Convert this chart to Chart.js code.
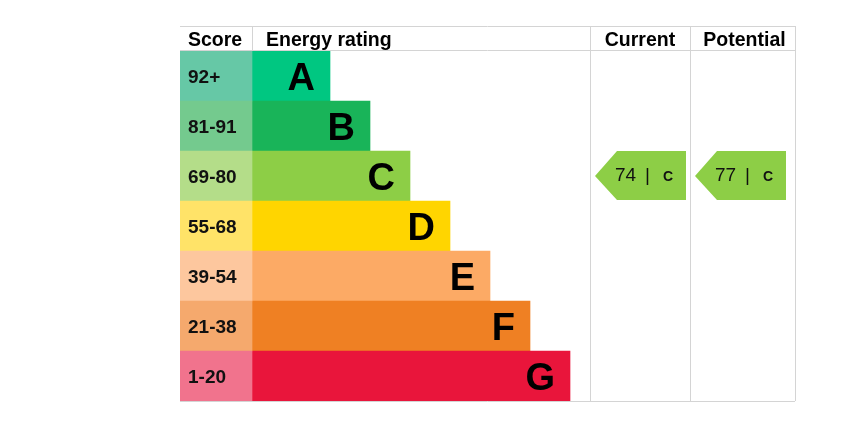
<!DOCTYPE html>
<html>
<head>
<meta charset="utf-8">
<script src="https://cdn.jsdelivr.net/npm/chart.js@4/dist/chart.umd.min.js"></script>
<style>
  html, body { margin: 0; padding: 0; background: #ffffff; }
  #wrap { width: 861px; height: 424px; }
</style>
</head>
<body>
<div id="wrap"><canvas id="c" width="861" height="424"></canvas></div>
<script>
// ---- data ----
const ratings      = ['A', 'B', 'C', 'D', 'E', 'F', 'G'];
const scoreRanges  = ['92+', '81-91', '69-80', '55-68', '39-54', '21-38', '1-20'];
const scoreMins    = [92, 81, 69, 55, 39, 21, 1];
const barLengths   = [78, 118, 158, 198, 238, 278, 318];
const currentScore = 74;
const potentialScore = 77;
const headers      = ['Score', 'Energy rating', 'Current', 'Potential'];

// ---- styles ----
const barColors   = ['#00c781', '#19b459', '#8dce46', '#ffd500', '#fcaa65', '#ef8023', '#e9153b'];
const scoreColors = ['#66c8a6', '#74ca8e', '#b4dd89', '#ffe368', '#fdc79e', '#f5a96d', '#f1738d'];
const gridColor = '#d4d4d4';
const FONT = '"Liberation Sans", Arial, Helvetica, sans-serif';

// table column boundaries in x-scale units
const COLS = { score: [0, 72], rating: [72, 410], current: [410, 510], potential: [510, 615] };
const HEADER_H = 25;

function ratingFor(score) {
  for (let i = 0; i < scoreMins.length; i++) if (score >= scoreMins[i]) return i;
  return scoreMins.length - 1;
}

const tablePlugin = {
  id: 'epcTable',
  beforeDatasetsDraw(chart) {
    const { ctx, chartArea: ca, scales: { x } } = chart;
    const top = ca.top - HEADER_H;
    ctx.save();
    ctx.strokeStyle = gridColor;
    ctx.lineWidth = 1;
    const hl = (y, x1, x2) => { ctx.beginPath(); ctx.moveTo(x1, Math.round(y) + 0.5); ctx.lineTo(x2, Math.round(y) + 0.5); ctx.stroke(); };
    const vl = (xx, y1, y2) => { ctx.beginPath(); ctx.moveTo(Math.round(xx) - 0.5, y1); ctx.lineTo(Math.round(xx) - 0.5, y2); ctx.stroke(); };
    const xl = x.getPixelForValue(COLS.score[0]);
    const xr = x.getPixelForValue(COLS.potential[1]);
    hl(top, xl, xr);
    hl(ca.top - 1, xl, xr);
    hl(ca.bottom, xl, xr);
    vl(x.getPixelForValue(COLS.rating[0]) + 1, top, ca.top);
    vl(x.getPixelForValue(COLS.current[0]) + 1, top, ca.bottom);
    vl(x.getPixelForValue(COLS.potential[0]) + 1, top, ca.bottom);
    vl(xr + 1, top, ca.bottom);
    ctx.restore();
  },
  afterDatasetsDraw(chart) {
    const { ctx, chartArea: ca, scales: { x, y } } = chart;
    const band = (ca.bottom - ca.top) / ratings.length;
    ctx.save();
    ctx.fillStyle = '#000000';
    // headers
    ctx.font = 'bold 19.5px ' + FONT;
    ctx.textBaseline = 'alphabetic';
    const hy = ca.top - 5;
    ctx.textAlign = 'left';
    ctx.fillText(headers[0], x.getPixelForValue(COLS.score[0]) + 8, hy);
    ctx.fillText(headers[1], x.getPixelForValue(COLS.rating[0]) + 14, hy);
    ctx.textAlign = 'center';
    ctx.fillText(headers[2], (x.getPixelForValue(COLS.current[0]) + x.getPixelForValue(COLS.current[1])) / 2, hy);
    ctx.fillText(headers[3], (x.getPixelForValue(COLS.potential[0]) + x.getPixelForValue(COLS.potential[1])) / 2 + 2, hy);

    // score labels and rating letters
    ratings.forEach((r, i) => {
      const cy = y.getPixelForValue(i);
      ctx.textAlign = 'left';
      ctx.font = 'bold 19px ' + FONT;
      ctx.fillStyle = '#111111';
      ctx.fillText(scoreRanges[i], x.getPixelForValue(COLS.score[0]) + 8, cy + 7);
      ctx.textAlign = 'right';
      ctx.font = 'bold 38px ' + FONT;
      ctx.fillStyle = '#000000';
      ctx.fillText(r, x.getPixelForValue(COLS.rating[0] + barLengths[i]) - 15, cy + 14);
    });

    // current / potential arrows
    const drawArrow = (col, score) => {
      const idx = ratingFor(score);
      const cy = y.getPixelForValue(idx);
      const t = cy - band / 2, b = cy + band / 2 - 1;
      const left = x.getPixelForValue(col[0]) + 5;
      const right = left + 91;
      const notch = 22;
      ctx.beginPath();
      ctx.moveTo(left, cy);
      ctx.lineTo(left + notch, t);
      ctx.lineTo(right, t);
      ctx.lineTo(right, b);
      ctx.lineTo(left + notch, b);
      ctx.closePath();
      ctx.fillStyle = barColors[idx];
      ctx.fill();
      ctx.fillStyle = '#111111';
      ctx.textAlign = 'left';
      ctx.font = '19px ' + FONT;
      ctx.fillText(String(score), left + 20, cy + 5);
      ctx.fillText('|', left + 50, cy + 5);
      ctx.font = 'bold 14px ' + FONT;
      ctx.fillText(ratings[idx], left + 68, cy + 5);
    };
    drawArrow(COLS.current, currentScore);
    drawArrow(COLS.potential, potentialScore);
    ctx.restore();
  }
};

new Chart(document.getElementById('c'), {
  type: 'bar',
  data: {
    labels: ratings,
    datasets: [
      {
        label: 'Score',
        data: ratings.map(() => [COLS.score[0], COLS.score[1]]),
        backgroundColor: scoreColors,
        grouped: false,
        barPercentage: 1,
        categoryPercentage: 1,
        borderWidth: 0
      },
      {
        label: 'Energy rating',
        data: barLengths.map(l => [COLS.rating[0], COLS.rating[0] + l]),
        backgroundColor: barColors,
        grouped: false,
        barPercentage: 1,
        categoryPercentage: 1,
        borderWidth: 0
      }
    ]
  },
  options: {
    indexAxis: 'y',
    responsive: false,
    animation: false,
    devicePixelRatio: 1,
    layout: { padding: { left: 180, right: 66, top: 51, bottom: 23 } },
    plugins: { legend: { display: false }, tooltip: { enabled: false } },
    scales: {
      x: { display: false, min: 0, max: 615 },
      y: { display: false, offset: true }
    }
  },
  plugins: [tablePlugin]
});
</script>
</body>
</html>
